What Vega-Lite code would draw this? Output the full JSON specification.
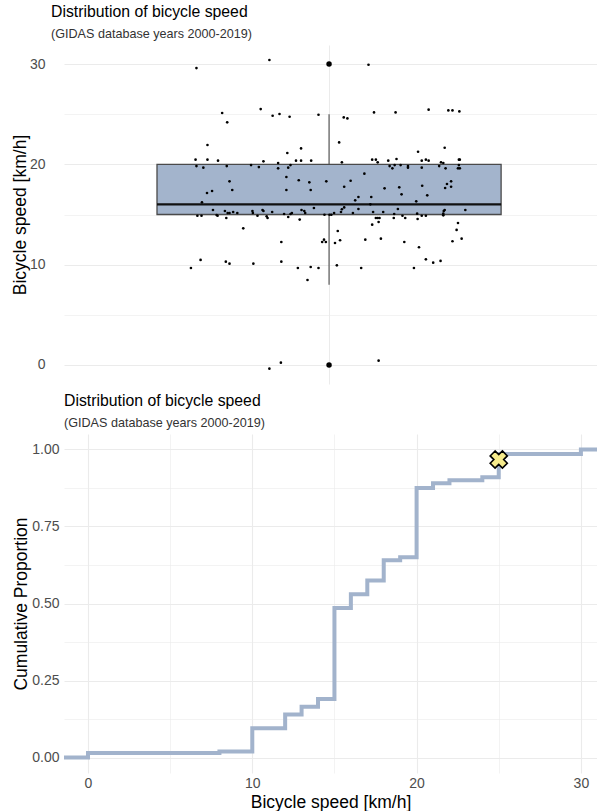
{
  "$schema": "https://vega.github.io/schema/vega-lite/v6.json",
  "padding": {"left": 11, "top": 3, "right": 0, "bottom": 0},
  "config": {
    "font": "Liberation Sans",
    "view": {"stroke": null},
    "axis": {"domain": false, "ticks": false, "gridColor": "#EBEBEB", "labelColor": "#4D4D4D", "labelFontSize": 14, "titleFontSize": 17.5, "titleFontWeight": "normal", "titleColor": "#000000", "labelPadding": 5},
    "title": {"anchor": "start", "frame": "group", "fontSize": 15.8, "fontWeight": "normal", "color": "#000000", "subtitleFontSize": 12.6, "subtitleColor": "#333333", "offset": 3, "subtitlePadding": 8}
  },
  "datasets": {
    "jit": [
      {"x":0.711,"s":29.60},{"x":0.870,"s":30.40},{"x":1.086,"s":29.93},
      {"x":0.767,"s":25.12},{"x":0.851,"s":25.51},{"x":0.778,"s":24.19},{"x":0.877,"s":24.85},{"x":0.892,"s":25.02},{"x":0.914,"s":24.75},{"x":0.977,"s":24.95},{"x":1.032,"s":24.68},{"x":1.040,"s":24.58},{"x":1.098,"s":25.18},{"x":1.145,"s":25.18},{"x":1.217,"s":25.45},{"x":1.260,"s":25.38},{"x":1.269,"s":25.38},{"x":1.284,"s":25.28},
      {"x":0.735,"s":21.93},{"x":1.022,"s":22.19},{"x":0.909,"s":21.13},{"x":0.939,"s":21.59},{"x":1.194,"s":21.26},{"x":1.252,"s":21.66},
      {"x":0.709,"s":20.47},{"x":0.735,"s":20.47},{"x":0.758,"s":20.37},{"x":0.857,"s":20.30},{"x":0.889,"s":20.13},{"x":0.928,"s":20.37},{"x":0.939,"s":20.37},{"x":0.961,"s":20.37},{"x":1.028,"s":20.20},{"x":1.094,"s":20.47},{"x":1.102,"s":20.47},{"x":1.106,"s":20.20},{"x":1.129,"s":20.37},{"x":1.147,"s":20.53},{"x":1.202,"s":20.37},{"x":1.211,"s":20.47},{"x":1.217,"s":20.37},{"x":1.244,"s":20.20},{"x":1.249,"s":20.13},{"x":1.283,"s":20.47},{"x":1.285,"s":20.47},
      {"x":0.711,"s":19.83},{"x":0.726,"s":19.67},{"x":0.777,"s":19.83},{"x":0.830,"s":19.93},{"x":0.847,"s":19.73},{"x":0.889,"s":19.60},{"x":0.911,"s":19.67},{"x":0.916,"s":19.93},{"x":1.132,"s":19.83},{"x":1.138,"s":19.60},{"x":1.143,"s":19.93},{"x":1.156,"s":19.93},{"x":1.172,"s":19.83},{"x":1.172,"s":19.67},{"x":1.202,"s":19.67},{"x":1.240,"s":19.83},{"x":1.254,"s":19.60},{"x":1.281,"s":19.60},{"x":1.283,"s":19.93},{"x":1.285,"s":19.60},
      {"x":0.907,"s":18.74},{"x":0.783,"s":18.31},{"x":0.789,"s":17.44},{"x":0.745,"s":17.34},{"x":0.734,"s":17.14},{"x":0.907,"s":17.44},{"x":0.934,"s":18.41},{"x":0.957,"s":18.21},{"x":0.960,"s":17.44},{"x":0.994,"s":18.31},{"x":1.033,"s":17.77},{"x":1.047,"s":18.37},{"x":1.077,"s":19.07},{"x":1.057,"s":16.41},{"x":1.064,"s":16.74},{"x":1.092,"s":16.74},{"x":1.121,"s":17.61},{"x":1.153,"s":17.71},{"x":1.158,"s":17.01},{"x":1.203,"s":17.87},{"x":1.214,"s":16.91},{"x":1.253,"s":17.64},{"x":1.257,"s":18.04},{"x":1.266,"s":18.31},{"x":1.266,"s":17.77},{"x":1.190,"s":16.31},{"x":0.723,"s":16.21},
      {"x":0.747,"s":15.45},{"x":0.757,"s":14.88},{"x":0.773,"s":15.35},{"x":0.776,"s":14.65},{"x":0.779,"s":15.15},{"x":0.783,"s":15.15},{"x":0.791,"s":15.25},{"x":0.800,"s":15.15},{"x":0.833,"s":15.35},{"x":0.834,"s":15.15},{"x":0.844,"s":14.88},{"x":0.855,"s":15.45},{"x":0.857,"s":15.35},{"x":0.864,"s":14.82},{"x":0.866,"s":14.65},{"x":0.876,"s":15.25},{"x":0.902,"s":15.05},{"x":0.911,"s":14.75},{"x":0.916,"s":15.05},{"x":0.919,"s":15.15},{"x":0.936,"s":14.49},{"x":0.940,"s":15.45},{"x":0.946,"s":15.35},{"x":0.948,"s":15.15},{"x":0.967,"s":15.65},{"x":0.990,"s":14.98},{"x":1.001,"s":14.98},{"x":1.005,"s":14.98},{"x":1.011,"s":15.15},{"x":1.026,"s":15.25},{"x":1.028,"s":15.52},{"x":1.033,"s":15.71},{"x":1.052,"s":15.15},{"x":1.064,"s":15.55},{"x":1.096,"s":15.25},{"x":1.102,"s":14.65},{"x":1.106,"s":14.65},{"x":1.110,"s":14.65},{"x":1.118,"s":15.25},{"x":1.142,"s":15.05},{"x":1.141,"s":14.65},{"x":1.150,"s":15.55},{"x":1.160,"s":14.88},{"x":1.166,"s":14.65},{"x":1.192,"s":15.08},{"x":1.193,"s":14.55},{"x":1.202,"s":14.88},{"x":1.211,"s":14.88},{"x":1.249,"s":15.08},{"x":1.250,"s":15.35},{"x":1.252,"s":15.45},{"x":1.249,"s":14.92},{"x":1.297,"s":15.45},{"x":0.713,"s":14.88},{"x":0.722,"s":14.88},{"x":0.755,"s":14.95},{"x":1.090,"s":16.01},
      {"x":0.813,"s":13.62},{"x":0.896,"s":12.26},{"x":0.985,"s":12.26},{"x":0.993,"s":12.26},{"x":0.989,"s":12.49},{"x":1.013,"s":12.16},{"x":1.019,"s":13.36},{"x":1.024,"s":12.43},{"x":1.079,"s":12.49},{"x":1.094,"s":13.99},{"x":1.108,"s":14.25},{"x":1.113,"s":12.59},{"x":1.164,"s":12.26},{"x":1.196,"s":11.73},{"x":1.269,"s":12.33},{"x":1.278,"s":13.46},{"x":1.281,"s":14.15},{"x":1.289,"s":12.59},
      {"x":0.720,"s":10.47},{"x":0.775,"s":10.30},{"x":0.783,"s":10.10},{"x":0.835,"s":10.10},{"x":0.896,"s":10.30},{"x":0.699,"s":9.67},{"x":0.932,"s":9.67},{"x":0.960,"s":9.77},{"x":0.977,"s":9.67},{"x":1.017,"s":9.93},{"x":1.070,"s":9.67},{"x":1.185,"s":9.67},{"x":1.211,"s":10.53},{"x":1.227,"s":10.20},{"x":1.243,"s":10.37},{"x":0.953,"s":8.47},
      {"x":0.870,"s":-0.37},{"x":0.895,"s":0.23},{"x":1.108,"s":0.43}
    ],
    "ecdf": [
      {"v":-1.6,"p":0},{"v":0,"p":0.015},{"v":8,"p":0.02},{"v":10,"p":0.095},{"v":12,"p":0.14},{"v":13,"p":0.165},{"v":14,"p":0.19},{"v":15,"p":0.485},{"v":16,"p":0.53},{"v":17,"p":0.575},{"v":18,"p":0.64},{"v":19,"p":0.65},{"v":20,"p":0.875},{"v":21,"p":0.89},{"v":22,"p":0.90},{"v":24,"p":0.91},{"v":25,"p":0.985},{"v":30,"p":1.0},{"v":31.5,"p":1.0}
    ]
  },
  "concat": [
    {
      "title": {"text": "Distribution of bicycle speed", "subtitle": "(GIDAS database years 2000-2019)", "dx": -13},
      "width": 533,
      "height": 339,
      "layer": [
        {
          "data": {"values": [{"x1": 0.625, "x2": 1.375, "q1": 15, "q3": 20}]},
          "mark": {"type": "rect", "fill": "#A3B4CC", "stroke": "#4A4A4A", "strokeWidth": 1.3},
          "encoding": {
            "x": {"field": "x1", "type": "quantitative", "scale": {"domain": [0.4223, 1.584], "nice": false, "zero": false}, "axis": {"values": [1], "labels": false, "title": null, "grid": true}},
            "x2": {"field": "x2"},
            "y": {"field": "q1", "type": "quantitative", "scale": {"domain": [-1.9, 31.9], "nice": false, "zero": false}, "axis": {"values": [0, 5, 10, 15, 20, 25, 30], "labelExpr": "datum.value % 10 === 0 ? datum.label : ''", "title": "Bicycle speed [km/h]", "labelPadding": 19, "titlePadding": 0, "gridWidth": {"condition": {"test": "datum.value % 10 === 0", "value": 1.1}, "value": 0.6}}},
            "y2": {"field": "q3"}
          }
        },
        {
          "data": {"values": [{"x": 1, "a": 20, "b": 25}, {"x": 1, "a": 8, "b": 15}]},
          "mark": {"type": "rule", "stroke": "#4A4A4A", "strokeWidth": 1.1},
          "encoding": {"x": {"field": "x", "type": "quantitative"}, "y": {"field": "a", "type": "quantitative"}, "y2": {"field": "b"}}
        },
        {
          "data": {"values": [{"x1": 0.625, "x2": 1.375, "m": 16}]},
          "mark": {"type": "rule", "stroke": "#111111", "strokeWidth": 2.3},
          "encoding": {"x": {"field": "x1", "type": "quantitative"}, "x2": {"field": "x2"}, "y": {"field": "m", "type": "quantitative"}}
        },
        {
          "data": {"values": [{"x": 1, "s": 0}, {"x": 1, "s": 30}]},
          "mark": {"type": "point", "filled": true, "shape": "circle", "size": 30, "color": "#000000", "opacity": 1},
          "encoding": {"x": {"field": "x", "type": "quantitative"}, "y": {"field": "s", "type": "quantitative"}}
        },
        {
          "data": {"name": "jit"},
          "mark": {"type": "point", "filled": true, "shape": "circle", "size": 7, "color": "#000000", "opacity": 1},
          "encoding": {"x": {"field": "x", "type": "quantitative"}, "y": {"field": "s", "type": "quantitative"}}
        }
      ]
    },
    {
      "title": {"text": "Distribution of bicycle speed", "subtitle": "(GIDAS database years 2000-2019)"},
      "width": 533,
      "height": 339,
      "layer": [
        {
          "data": {"name": "ecdf"},
          "mark": {"type": "line", "interpolate": "step-after", "stroke": "#A2B3CC", "strokeWidth": 4, "clip": true},
          "encoding": {
            "x": {"field": "v", "type": "quantitative", "scale": {"domain": [-1.46, 30.98], "nice": false, "zero": false}, "axis": {"values": [0, 5, 10, 15, 20, 25, 30], "labelExpr": "datum.value % 10 === 0 ? datum.label : ''", "title": "Bicycle speed [km/h]", "labelPadding": 3, "titlePadding": 3, "gridWidth": {"condition": {"test": "datum.value % 10 === 0", "value": 1.1}, "value": 0.6}}},
            "y": {"field": "p", "type": "quantitative", "scale": {"domain": [-0.05, 1.05], "nice": false, "zero": false}, "axis": {"values": [0, 0.125, 0.25, 0.375, 0.5, 0.625, 0.75, 0.875, 1], "labelExpr": "indexof([0, 0.25, 0.5, 0.75, 1], datum.value) >= 0 ? format(datum.value, '.2f') : ''", "title": "Cumulative Proportion", "titlePadding": 1, "gridWidth": {"condition": {"test": "indexof([0, 0.25, 0.5, 0.75, 1], datum.value) >= 0", "value": 1.1}, "value": 0.6}}}
          }
        },
        {
          "data": {"values": [{"v": 25, "p": 0.967}]},
          "mark": {"type": "point", "shape": "cross", "angle": 45, "size": 300, "filled": true, "fill": "#F6EB8C", "stroke": "#000000", "strokeWidth": 1.6, "opacity": 1},
          "encoding": {"x": {"field": "v", "type": "quantitative"}, "y": {"field": "p", "type": "quantitative"}}
        }
      ]
    }
  ],
  "columns": 1,
  "align": "none",
  "spacing": 8
}
